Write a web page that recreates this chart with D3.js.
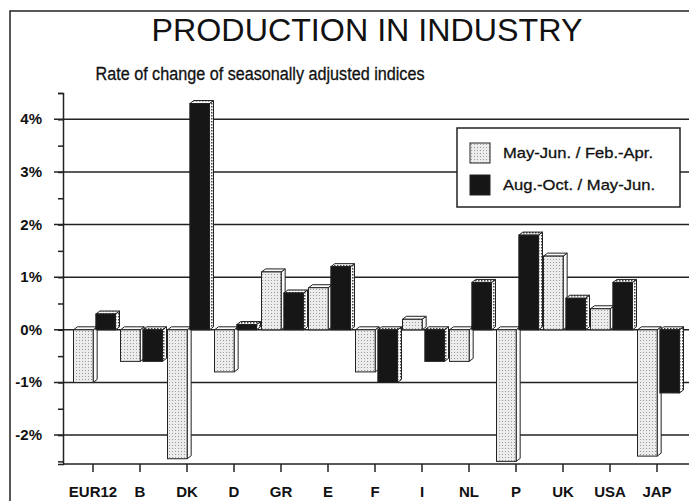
<!DOCTYPE html>
<html>
<head>
<meta charset="utf-8">
<script src="https://cdn.jsdelivr.net/npm/d3@7"></script>
<style>
  body { margin: 0; background: #fff; }
  text { font-family: "Liberation Sans", Arial, sans-serif; fill: #111; }
</style>
</head>
<body>
<div id="chart"></div>
<script>
// data
var countries = ["EUR12", "B", "DK", "D", "GR", "E", "F", "I", "NL", "P", "UK", "USA", "JAP"];
var seriesNames = ["May-Jun. / Feb.-Apr.", "Aug.-Oct. / May-Jun."];
var mayJun = [-1.0, -0.6, -2.45, -0.8, 1.1, 0.8, -0.8, 0.2, -0.6, -2.5, 1.4, 0.4, -2.4];
var augOct = [0.3, -0.6, 4.3, 0.1, 0.7, 1.2, -1.0, -0.6, 0.9, 1.8, 0.6, 0.9, -1.2];
var yTicks = [-2, -1, 0, 1, 2, 3, 4];

var width = 689, height = 501;
var depthX = 4, depthY = 3;

var svg = d3.select("#chart").append("svg")
  .attr("width", width)
  .attr("height", height);

// patterns for the stippled faces
var defs = svg.append("defs");
var p1 = defs.append("pattern").attr("id", "lightDots")
  .attr("width", 3).attr("height", 3).attr("patternUnits", "userSpaceOnUse");
p1.append("rect").attr("width", 3).attr("height", 3).attr("fill", "#ececec");
p1.append("rect").attr("x", 1).attr("y", 1).attr("width", 1).attr("height", 1).attr("fill", "#9a9a9a");

var p2 = defs.append("pattern").attr("id", "sideDots")
  .attr("width", 3).attr("height", 3).attr("patternUnits", "userSpaceOnUse");
p2.append("rect").attr("width", 3).attr("height", 3).attr("fill", "#fafafa");
p2.append("rect").attr("x", 1).attr("y", 1).attr("width", 1.5).attr("height", 1.5).attr("fill", "#444");

// outer frame
svg.append("rect")
  .attr("x", 10).attr("y", 11)
  .attr("width", 700).attr("height", 520)
  .attr("fill", "none").attr("stroke", "#222").attr("stroke-width", 1.5);

// titles
svg.append("text")
  .attr("x", 367).attr("y", 41)
  .attr("text-anchor", "middle")
  .attr("textLength", 431).attr("lengthAdjust", "spacingAndGlyphs")
  .style("font-size", "32px")
  .text("PRODUCTION IN INDUSTRY");

svg.append("text")
  .attr("x", 260).attr("y", 80)
  .attr("text-anchor", "middle")
  .attr("textLength", 329).attr("lengthAdjust", "spacingAndGlyphs")
  .style("font-size", "18px")
  .style("stroke", "#111").style("stroke-width", 0.3)
  .text("Rate of change of seasonally adjusted indices");

// scales
var x = d3.scaleBand().domain(countries).range([69.5, 680.5]);
var xSub = d3.scaleBand().domain(seriesNames).range([4, 46]).paddingInner(0.12);
var y = d3.scaleLinear().domain([-2.55, 4.5]).range([464, 93]);

var axisX = 63;

// grid lines
svg.append("g").selectAll("line")
  .data(yTicks)
  .join("line")
  .attr("x1", axisX - 9).attr("x2", width)
  .attr("y1", d => y(d)).attr("y2", d => y(d))
  .attr("stroke", "#222").attr("stroke-width", 1.5);

// y axis with half step ticks
var yAxis = d3.axisLeft(y)
  .tickValues(d3.range(-2.5, 4.6, 0.5))
  .tickSize(5)
  .tickFormat("");
var gy = svg.append("g").attr("transform", "translate(" + axisX + ",0)").call(yAxis);
gy.select(".domain").attr("stroke", "#222").attr("stroke-width", 1.5);
gy.selectAll(".tick line").attr("stroke", "#222").attr("stroke-width", 1.5);

svg.append("g").selectAll("text")
  .data(yTicks)
  .join("text")
  .attr("x", 42).attr("y", d => y(d) + 5)
  .attr("text-anchor", "end")
  .style("font-size", "15px").style("font-weight", "bold")
  .text(d => d + "%");

// bars
var rows = [];
countries.forEach(function(c, i) {
  rows.push({ c: c, s: seriesNames[0], v: mayJun[i] });
  rows.push({ c: c, s: seriesNames[1], v: augOct[i] });
});

var bars = svg.append("g").selectAll("g")
  .data(rows)
  .join("g");

bars.each(function(d) {
  var g = d3.select(this);
  var x0 = x(d.c) + xSub(d.s);
  var w = xSub.bandwidth();
  var top = Math.min(y(d.v), y(0));
  var bot = Math.max(y(d.v), y(0));
  var dark = d.s === seriesNames[1];

  // right side face
  g.append("path")
    .attr("d", "M" + (x0 + w) + "," + top +
      "L" + (x0 + w + depthX) + "," + (top - depthY) +
      "L" + (x0 + w + depthX) + "," + (bot - depthY) +
      "L" + (x0 + w) + "," + bot + "Z")
    .attr("fill", dark ? "url(#sideDots)" : "#fbfbfb")
    .attr("stroke", "#222").attr("stroke-width", 1);
  // top face
  g.append("path")
    .attr("d", "M" + x0 + "," + top +
      "L" + (x0 + depthX) + "," + (top - depthY) +
      "L" + (x0 + w + depthX) + "," + (top - depthY) +
      "L" + (x0 + w) + "," + top + "Z")
    .attr("fill", dark ? "url(#sideDots)" : "#fbfbfb")
    .attr("stroke", "#222").attr("stroke-width", 1);
  // front face
  g.append("rect")
    .attr("x", x0).attr("y", top)
    .attr("width", w).attr("height", bot - top)
    .attr("fill", dark ? "#161616" : "url(#lightDots)")
    .attr("stroke", "#222").attr("stroke-width", 1);
});

// x axis
var xAxis = d3.axisBottom(x).tickSize(8).tickFormat("");
var gx = svg.append("g").attr("transform", "translate(0," + y(-2.55) + ")").call(xAxis);
gx.select(".domain").attr("d", "M" + axisX + ",0H" + width)
  .attr("stroke", "#222").attr("stroke-width", 1.5);
gx.selectAll(".tick line").attr("stroke", "#222").attr("stroke-width", 1.5);

svg.append("g").selectAll("text")
  .data(countries)
  .join("text")
  .attr("x", d => x(d) + x.bandwidth() / 2)
  .attr("y", 497)
  .attr("text-anchor", "middle")
  .style("font-size", "15px").style("font-weight", "bold")
  .text(d => d);

// legend
var legend = svg.append("g").attr("transform", "translate(457,128)");
legend.append("rect")
  .attr("width", 223).attr("height", 79)
  .attr("fill", "#fff").attr("stroke", "#222").attr("stroke-width", 1.5);

var items = legend.selectAll("g.item")
  .data(seriesNames)
  .join("g").attr("class", "item")
  .attr("transform", (d, i) => "translate(13," + (15 + i * 32) + ")");
items.append("rect")
  .attr("width", 20).attr("height", 20)
  .attr("fill", (d, i) => i === 0 ? "url(#lightDots)" : "#161616")
  .attr("stroke", "#222").attr("stroke-width", 1);
items.append("text")
  .attr("x", 33).attr("y", 15)
  .attr("textLength", (d, i) => i === 0 ? 150 : 152)
  .attr("lengthAdjust", "spacingAndGlyphs")
  .style("font-size", "15px")
  .style("stroke", "#111").style("stroke-width", 0.3)
  .text(d => d);
</script>
</body>
</html>
